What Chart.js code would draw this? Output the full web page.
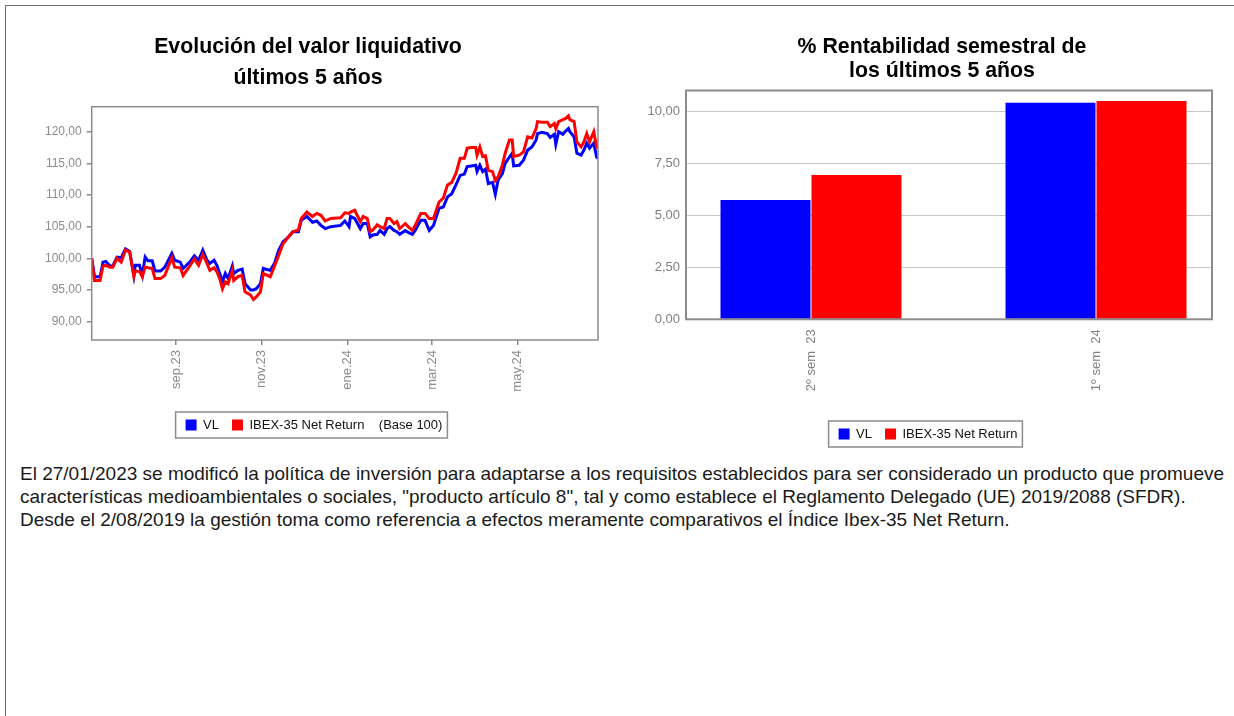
<!DOCTYPE html>
<html lang="es">
<head>
<meta charset="utf-8">
<title>Evolución del valor liquidativo</title>
<script src="https://cdn.jsdelivr.net/npm/chart.js@4.4.1/dist/chart.umd.min.js"></script>
<style>
  html, body { margin: 0; padding: 0; background: #fff; overflow: hidden; }
  body { width: 1234px; height: 716px; position: relative; font-family: "Liberation Sans", Arial, sans-serif; }
  #marco { position: absolute; left: 5px; top: 5px; width: 1300px; height: 800px; border-top: 1.5px solid #6e6e6e; border-left: 1.5px solid #6e6e6e; }
  #caja1 { position: absolute; left: 0; top: 0; width: 620px; height: 450px; }
  #caja2 { position: absolute; left: 620px; top: 0; width: 614px; height: 460px; }
  #nota { position: absolute; left: 20px; top: 462px; font-size: 19px; line-height: 23px; color: #1a1a1a; white-space: nowrap; }
</style>
</head>
<body>
<div id="marco"></div>
<div id="caja1"><canvas id="grafVL"></canvas></div>
<div id="caja2"><canvas id="grafRent"></canvas></div>
<div id="nota">El 27/01/2023 se modificó la política de inversión para adaptarse a los requisitos establecidos para ser considerado un producto que promueve<br>características medioambientales o sociales, "producto artículo 8", tal y como establece el Reglamento Delegado (UE) 2019/2088 (SFDR).<br>Desde el 2/08/2019 la gestión toma como referencia a efectos meramente comparativos el Índice Ibex-35 Net Return.</div>
<script>
// evolucion base 100
var fechas = [
    "2023-07-03", "2023-07-05", "2023-07-09", "2023-07-11", "2023-07-13", "2023-07-16", "2023-07-18", "2023-07-21", "2023-07-24", "2023-07-27",
    "2023-07-30", "2023-08-02", "2023-08-03", "2023-08-06", "2023-08-08", "2023-08-10", "2023-08-12", "2023-08-15", "2023-08-17", "2023-08-21",
    "2023-08-24", "2023-08-29", "2023-08-31", "2023-09-04", "2023-09-06", "2023-09-11", "2023-09-14", "2023-09-17", "2023-09-20", "2023-09-23",
    "2023-09-25", "2023-09-28", "2023-09-30", "2023-10-02", "2023-10-04", "2023-10-06", "2023-10-08", "2023-10-11", "2023-10-12", "2023-10-15",
    "2023-10-18", "2023-10-20", "2023-10-24", "2023-10-26", "2023-10-28", "2023-10-31", "2023-11-02", "2023-11-07", "2023-11-10", "2023-11-13",
    "2023-11-16", "2023-11-20", "2023-11-23", "2023-11-27", "2023-11-29", "2023-12-03", "2023-12-07", "2023-12-10", "2023-12-13", "2023-12-16",
    "2023-12-20", "2023-12-27", "2023-12-30", "2024-01-02", "2024-01-03", "2024-01-06", "2024-01-10", "2024-01-12", "2024-01-15", "2024-01-17",
    "2024-01-19", "2024-01-22", "2024-01-24", "2024-01-27", "2024-01-29", "2024-01-31", "2024-02-03", "2024-02-05", "2024-02-07", "2024-02-11",
    "2024-02-13", "2024-02-16", "2024-02-18", "2024-02-22", "2024-02-25", "2024-02-28", "2024-03-02", "2024-03-06", "2024-03-09", "2024-03-12",
    "2024-03-15", "2024-03-18", "2024-03-21", "2024-03-24", "2024-03-26", "2024-03-29", "2024-04-01", "2024-04-02", "2024-04-04", "2024-04-06",
    "2024-04-08", "2024-04-10", "2024-04-13", "2024-04-15", "2024-04-17", "2024-04-20", "2024-04-22", "2024-04-25", "2024-04-27", "2024-04-28",
    "2024-05-02", "2024-05-05", "2024-05-08", "2024-05-11", "2024-05-14", "2024-05-15", "2024-05-18", "2024-05-22", "2024-05-24", "2024-05-27",
    "2024-05-28", "2024-05-30", "2024-06-02", "2024-06-04", "2024-06-06", "2024-06-07", "2024-06-10", "2024-06-12", "2024-06-15", "2024-06-17",
    "2024-06-19", "2024-06-21", "2024-06-24", "2024-06-26", "2024-06-27"
];

var vl = [
    100.0, 97.1, 97.1, 99.4, 99.5, 98.8, 98.8, 100.2, 100.1, 101.5,
    101.1, 97.3, 98.9, 98.9, 97.3, 100.2, 99.6, 99.6, 98.0, 98.0,
    98.6, 100.8, 99.7, 99.4, 98.4, 99.5, 100.4, 99.7, 101.3, 99.7,
    99.2, 99.7, 98.9, 97.6, 96.3, 97.6, 96.8, 98.8, 97.6, 98.1,
    98.3, 96.0, 95.0, 95.0, 95.2, 96.0, 98.4, 98.1, 99.2, 101.3,
    102.6, 103.4, 104.2, 104.2, 106.0, 106.6, 105.7, 105.9, 105.2, 104.7,
    105.0, 105.2, 105.9, 105.0, 106.6, 106.3, 104.7, 105.5, 105.5, 103.4,
    103.7, 103.8, 104.4, 103.8, 104.7, 105.0, 104.4, 104.2, 103.8, 104.4,
    104.1, 103.8, 104.4, 106.0, 106.0, 104.4, 105.2, 107.9, 108.1, 109.7,
    110.2, 111.6, 113.1, 113.3, 114.5, 114.6, 114.7, 113.7, 114.7, 113.7,
    114.1, 111.8, 112.0, 110.1, 112.4, 113.4, 115.0, 116.0, 116.6, 114.6,
    114.7, 115.5, 117.1, 117.6, 118.7, 119.7, 119.9, 119.7, 119.1, 119.6,
    118.0, 120.0, 119.6, 120.1, 120.5, 120.0, 119.2, 116.6, 116.3, 117.1,
    118.2, 117.4, 118.2, 116.0, 115.8
];

var ibex = [
    100.0, 96.5, 96.5, 98.8, 98.9, 98.6, 98.6, 100.0, 99.4, 101.3,
    101.0, 97.1, 98.0, 97.9, 97.1, 98.6, 98.5, 98.4, 96.8, 96.8,
    97.3, 100.1, 98.6, 98.5, 97.3, 98.9, 99.9, 98.9, 100.6, 99.2,
    98.1, 98.5, 97.9, 96.8, 95.2, 96.3, 96.0, 98.1, 96.5, 97.1,
    97.3, 94.7, 94.2, 93.5, 93.9, 94.7, 97.6, 97.1, 98.8, 100.5,
    102.3, 103.4, 104.2, 104.5, 106.3, 107.3, 106.6, 107.1, 106.8, 105.9,
    106.3, 106.4, 107.2, 107.1, 107.3, 107.6, 105.8, 106.6, 106.3, 104.2,
    104.5, 105.3, 105.0, 104.7, 106.3, 106.3, 105.5, 105.8, 104.7, 105.5,
    105.0, 104.4, 105.2, 107.1, 107.1, 106.3, 106.3, 108.9, 109.5, 111.6,
    112.0, 113.4, 115.8, 115.8, 117.4, 117.5, 117.5, 116.3, 117.6, 116.1,
    116.2, 113.9, 113.7, 112.3, 112.9, 114.7, 116.6, 118.7, 118.7, 116.1,
    116.3, 116.8, 119.2, 119.0, 120.5, 121.6, 121.5, 121.5, 120.8, 121.3,
    120.5, 121.6, 121.9, 122.1, 122.5, 121.9, 121.6, 118.4, 117.6, 118.4,
    119.7, 118.4, 120.0, 117.6, 117.4
];

var mesesFechas = ["2023-09-01", "2023-11-01", "2024-01-01", "2024-03-01", "2024-05-01"];
var mesesEtiquetas = ["sep.23", "nov.23", "ene.24", "mar.24", "may.24"];
var ejeValor = [90, 95, 100, 105, 110, 115, 120];

// rentabilidad semestral
var semestres = ["2º sem  23", "1º sem  24"];
var rentVL = [5.75, 10.43];
var rentIbex = [6.95, 10.52];
var ejeRent = [0, 2.5, 5, 7.5, 10];

Chart.defaults.font.family = "'Liberation Sans', Arial, sans-serif";

var inicio = Date.parse(fechas[0]);
function dia(f) {
    return Math.round((Date.parse(f) - inicio) / 86400000);
}
function coma(v) {
    return Number(v).toFixed(2).replace(".", ",");
}

// recuadro del area de trazado
var marco = {
    id: "marco",
    afterDatasetsDraw: function (chart, args, opts) {
        var a = chart.chartArea;
        var ctx = chart.ctx;
        ctx.save();
        ctx.strokeStyle = opts.color;
        ctx.lineWidth = opts.width;
        ctx.strokeRect(a.left, a.top, a.right - a.left, a.bottom - a.top);
        ctx.restore();
    },
};

// mueve titulo y leyenda, y pone borde a la leyenda
var cajaLeyenda = {
    id: "cajaLeyenda",
    afterLayout: function (chart, args, opts) {
        chart.legend.left += opts.dx;
        chart.legend.right += opts.dx;
        if (chart.titleBlock) {
            chart.titleBlock.left += opts.tx;
            chart.titleBlock.right += opts.tx;
        }
    },
    afterDraw: function (chart) {
        var h = chart.legend.legendHitBoxes;
        if (!h || !h.length) return;
        var first = h[0];
        var last = h[h.length - 1];
        var yc = first.top + first.height / 2;
        var x0 = first.left - 10;
        var ctx = chart.ctx;
        ctx.save();
        ctx.strokeStyle = "#8c8c8c";
        ctx.lineWidth = 1.5;
        ctx.strokeRect(x0, yc - 13, last.left + last.width + 5 - x0, 26);
        ctx.restore();
    },
};

function etiquetasCaja(sufijo) {
    return function (chart) {
        var items = Chart.defaults.plugins.legend.labels.generateLabels(chart);
        items.sort(function (a, b) { return a.datasetIndex - b.datasetIndex; });
        items.forEach(function (it) {
            it.lineWidth = 0;
            it.fillStyle = it.strokeStyle;
        });
        if (sufijo) items[items.length - 1].text += sufijo;
        return items;
    };
}

new Chart(document.getElementById("grafVL"), {
    type: "line",
    data: {
        datasets: [
            {
                label: "VL",
                data: fechas.map(function (f, i) { return { x: dia(f), y: vl[i] }; }),
                borderColor: "#0000ff",
                backgroundColor: "#0000ff",
                borderWidth: 3,
                pointRadius: 0,
                tension: 0,
                order: 2,
            },
            {
                label: "IBEX-35 Net Return",
                data: fechas.map(function (f, i) { return { x: dia(f), y: ibex[i] }; }),
                borderColor: "#ff0000",
                backgroundColor: "#ff0000",
                borderWidth: 3,
                pointRadius: 0,
                tension: 0,
                order: 1,
            },
        ],
    },
    options: {
        responsive: true,
        maintainAspectRatio: false,
        animation: false,
        layout: { padding: { left: 18, right: 22, top: 0, bottom: 8.5 } },
        scales: {
            x: {
                type: "linear",
                min: 0,
                max: dia(fechas[fechas.length - 1]),
                afterBuildTicks: function (s) {
                    s.ticks = mesesFechas.map(function (f) { return { value: dia(f) }; });
                },
                afterFit: function (s) { s.height = 65.5; },
                grid: { drawOnChartArea: false, tickLength: 5, color: "#8c8c8c", lineWidth: 1.5 },
                border: { display: false },
                ticks: {
                    autoSkip: false,
                    minRotation: 90,
                    maxRotation: 90,
                    padding: 5,
                    color: "#8c8c8c",
                    font: { size: 13 },
                    callback: function (v, i) { return mesesEtiquetas[i]; },
                },
            },
            y: {
                min: 87.1,
                max: 123.95,
                afterBuildTicks: function (s) {
                    s.ticks = ejeValor.map(function (v) { return { value: v }; });
                },
                afterFit: function (s) { s.width = 73.7; },
                grid: { drawOnChartArea: false, tickLength: 5, color: "#8c8c8c", lineWidth: 1.5 },
                border: { display: false },
                ticks: {
                    padding: 5,
                    color: "#8c8c8c",
                    font: { size: 12 },
                    callback: coma,
                },
            },
        },
        plugins: {
            title: {
                display: true,
                text: ["Evolución del valor liquidativo", "últimos 5 años"],
                color: "#000",
                font: { size: 21.3, weight: "bold", lineHeight: "31px" },
                padding: { top: 31.5, bottom: 13.2 },
            },
            legend: {
                position: "bottom",
                labels: {
                    boxWidth: 11,
                    boxHeight: 11,
                    padding: 13,
                    color: "#111",
                    font: { size: 13 },
                    generateLabels: etiquetasCaja("    (Base 100)"),
                },
            },
            tooltip: { enabled: false },
            marco: { color: "#8c8c8c", width: 1.5 },
            cajaLeyenda: { dx: 6, tx: 0 },
        },
    },
    plugins: [marco, cajaLeyenda],
});

new Chart(document.getElementById("grafRent"), {
    type: "bar",
    data: {
        datasets: [
            {
                label: "VL",
                data: rentVL.map(function (v, i) { return { x: i, y: v }; }),
                backgroundColor: "#0000ff",
                borderColor: "#0000ff",
                borderWidth: 0,
            },
            {
                label: "IBEX-35 Net Return",
                data: rentIbex.map(function (v, i) { return { x: i, y: v }; }),
                backgroundColor: "#ff0000",
                borderColor: "#ff0000",
                borderWidth: 0,
            },
        ],
    },
    options: {
        responsive: true,
        maintainAspectRatio: false,
        animation: false,
        layout: { padding: { left: 16, right: 22, top: 0, bottom: 9.5 } },
        datasets: { bar: { categoryPercentage: 0.6386, barPercentage: 0.989 } },
        scales: {
            x: {
                type: "linear",
                offset: false,
                min: -0.4386,
                max: 1.407,
                afterBuildTicks: function (s) {
                    s.ticks = semestres.map(function (c, i) { return { value: i }; });
                },
                afterFit: function (s) { s.height = 95.2; },
                grid: { display: false, drawTicks: false, tickLength: 0, offset: false },
                border: { display: false },
                ticks: {
                    autoSkip: false,
                    minRotation: 90,
                    maxRotation: 90,
                    padding: 10,
                    color: "#808080",
                    font: { size: 13 },
                    callback: function (v, i) { return semestres[i]; },
                },
            },
            y: {
                min: 0,
                max: 11.02,
                afterBuildTicks: function (s) {
                    s.ticks = ejeRent.map(function (v) { return { value: v }; });
                },
                afterFit: function (s) { s.width = 50; },
                grid: { color: "#c8c8c8", lineWidth: 1, drawTicks: false },
                border: { display: false },
                ticks: {
                    padding: 6,
                    color: "#808080",
                    font: { size: 13 },
                    callback: coma,
                },
            },
        },
        plugins: {
            title: {
                display: true,
                text: ["% Rentabilidad semestral de", "los últimos 5 años"],
                color: "#000",
                font: { size: 21.3, weight: "bold", lineHeight: "24px" },
                padding: { top: 35, bottom: 7.5 },
            },
            legend: {
                position: "bottom",
                labels: {
                    boxWidth: 11,
                    boxHeight: 11,
                    padding: 13,
                    color: "#111",
                    font: { size: 13 },
                    generateLabels: etiquetasCaja(""),
                },
            },
            tooltip: { enabled: false },
            marco: { color: "#8c8c8c", width: 2 },
            cajaLeyenda: { dx: 4, tx: 18 },
        },
    },
    plugins: [marco, cajaLeyenda],
});
</script>
</body>
</html>
